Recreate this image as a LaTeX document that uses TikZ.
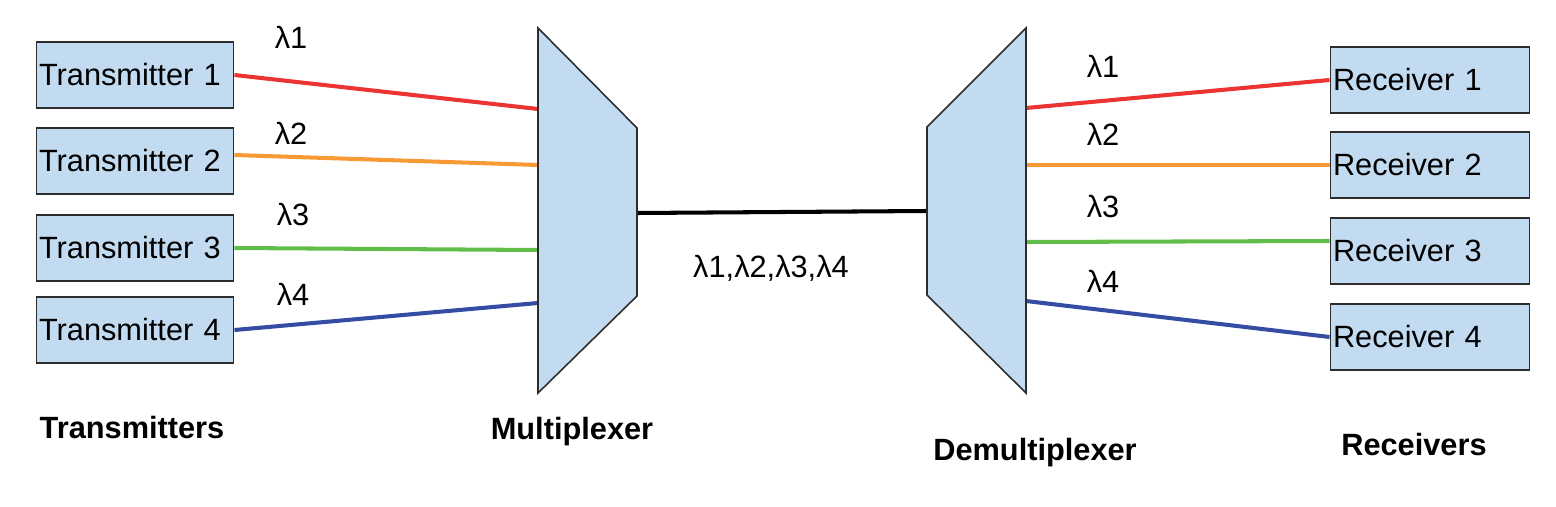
\documentclass[tikz,border=0pt]{standalone}
\usepackage{fontspec}
\setmainfont{Liberation Sans}
\definecolor{boxblue}{RGB}{194,219,240}
\definecolor{edgegray}{RGB}{45,45,45}
\definecolor{lred}{RGB}{236,52,52}
\definecolor{lorange}{RGB}{247,153,52}
\definecolor{lgreen}{RGB}{96,190,72}
\definecolor{lblue}{RGB}{52,76,164}
\tikzset{
  box/.style={draw=edgegray, line width=1.1pt, fill=boxblue, minimum height=1.32cm,
    text width=3.84cm, inner xsep=0.05cm, align=left,
    font=\fontsize{17.5pt}{21pt}\selectfont},
  lab/.style={anchor=base, inner sep=0pt, font=\fontsize{17.5pt}{21pt}\selectfont},
  title/.style={lab, font=\fontsize{17.5pt}{21pt}\selectfont\bfseries},
  fibre/.style={line width=2.3pt},
  muxbox/.style={draw=edgegray, line width=0.9pt, fill=boxblue, line join=miter}
}
\begin{document}
\begin{tikzpicture}[x=0.02cm, y=-0.02cm]
    \useasboundingbox (0,0) rectangle (1556,507);

    % Transmitters
    \node[box] (tx1) at (135,75) {Transmitter 1};
    \node[box] (tx2) at (135,161) {Transmitter 2};
    \node[box] (tx3) at (135,248) {Transmitter 3};
    \node[box] (tx4) at (135,330) {Transmitter 4};
    \node[title] (txlab) at (132,438) {Transmitters};

    % Receivers
    \node[box, text width=3.88cm] (rx1) at (1430,80) {Receiver 1};
    \node[box, text width=3.88cm] (rx2) at (1430,165) {Receiver 2};
    \node[box, text width=3.88cm] (rx3) at (1430,251) {Receiver 3};
    \node[box, text width=3.88cm] (rx4) at (1430,337) {Receiver 4};
    \node[title] (rxlab) at (1414,455) {Receivers};

    % Multiplexer ports
    \coordinate (m1) at (538,109);
    \coordinate (m2) at (538,165);
    \coordinate (m3) at (538,250);
    \coordinate (m4) at (538,303);
    \coordinate (mout) at (637,213);

    % Demultiplexer ports
    \coordinate (din) at (927,211);
    \coordinate (d1) at (1026,108);
    \coordinate (d2) at (1026,165);
    \coordinate (d3) at (1026,242);
    \coordinate (d4) at (1026,301);

    % Fibres into the multiplexer
    \draw[fibre, lred] (tx1.east) -- (m1);
    \draw[fibre, lorange] ([yshift=0.12cm]tx2.east) -- (m2);
    \draw[fibre, lgreen] (tx3.east) -- (m3);
    \draw[fibre, lblue] (tx4.east) -- (m4);

    % Fibres out of the demultiplexer
    \draw[fibre, lred] (d1) -- (rx1.west);
    \draw[fibre, lorange] (d2) -- (rx2.west);
    \draw[fibre, lgreen] (d3) -- ([yshift=0.2cm]rx3.west);
    \draw[fibre, lblue] (d4) -- (rx4.west);

    % Shared link
    \draw[fibre, black] (mout) -- (din);

    % Multiplexer and demultiplexer
    \draw[muxbox] (538,28) -- (637,128) -- (637,296) -- (538,393) -- cycle;
    \draw[muxbox] (927,127) -- (1026,28) -- (1026,393) -- (927,295) -- cycle;
    \node[title] (muxlab) at (572,439) {Multiplexer};
    \node[title] (demuxlab) at (1035,460) {Demultiplexer};

    % Wavelength labels
    \node[lab] (l1) at (291,49) {λ1};
    \node[lab] (l2) at (291,144) {λ2};
    \node[lab] (l3) at (293,225) {λ3};
    \node[lab] (l4) at (293,305) {λ4};
    \node[lab] (r1) at (1103,77) {λ1};
    \node[lab] (r2) at (1103,145) {λ2};
    \node[lab] (r3) at (1103,217) {λ3};
    \node[lab] (r4) at (1103,292) {λ4};
    \node[lab] (all) at (771,277) {λ1,λ2,λ3,λ4};
\end{tikzpicture}
\end{document}
